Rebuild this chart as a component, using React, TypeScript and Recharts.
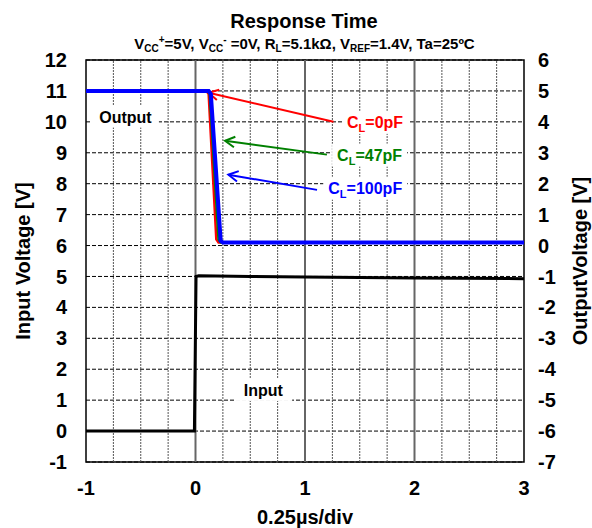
import React from 'react';
import {
  ComposedChart, Line, XAxis, YAxis, CartesianGrid, ReferenceLine, ReferenceDot, ReferenceArea,
} from 'recharts';

const FONT = '"Liberation Sans", Arial, sans-serif';

// time axis, 0.25us per division
const TIME_TICKS = [-1, 0, 1, 2, 3];
const MINOR_X = [-0.75, -0.5, -0.25, 0.25, 0.5, 0.75, 1.25, 1.5, 1.75, 2.25, 2.5, 2.75];
const MAJOR_X = [0, 1, 2];
const INPUT_TICKS = [-1, 0, 1, 2, 3, 4, 5, 6, 7, 8, 9, 10, 11, 12];
const OUTPUT_TICKS = [-7, -6, -5, -4, -3, -2, -1, 0, 1, 2, 3, 4, 5, 6];

// input step (left axis)
const INPUT_T = [-1, -0.01, 0.005, 0.03, 0.5, 1, 2, 3];
const INPUT_V = [0, 0, 5.0, 5.02, 5.0, 4.98, 4.95, 4.93];

// output traces (right axis)
const OUT0_T = [-1, 0.1, 0.12, 0.19, 0.21, 3];
const OUT0_V = [5, 5, 4.9, 0.2, 0.1, 0.1];
const OUT47_T = [-1, 0.11, 0.13, 0.21, 0.23, 3];
const OUT47_V = [5, 5, 4.9, 0.2, 0.1, 0.1];
const OUT100_T = [-1, 0.12, 0.14, 0.23, 0.25, 3];
const OUT100_V = [5, 5, 4.9, 0.15, 0.1, 0.1];

const zip = (t: number[], v: number[]) => t.map((x, i) => ({ t: x, v: v[i] }));

// annotation arrows: [tailT, tailV, headT, headV]
const ARROWS = [
  { color: '#ff0000', seg: [1.26, 4.0, 0.12, 4.94] },
  { color: '#008000', seg: [1.2, 2.94, 0.27, 3.39] },
  { color: '#0000ff', seg: [1.11, 1.8, 0.3, 2.29] },
];
const CL_LABELS = [
  { color: '#ff0000', t: 1.64, v: 4.0, text: '=0pF' },
  { color: '#008000', t: 1.59, v: 2.94, text: '=47pF' },
  { color: '#0000ff', t: 1.55, v: 1.87, text: '=100pF' },
];

const arrowShape = (color: string) => (p: any) => {
  const { x1, y1, x2, y2 } = p;
  const a = Math.atan2(y2 - y1, x2 - x1);
  const L = 11;
  const w = 0.5;
  const ax = x2 - L * Math.cos(a - w);
  const ay = y2 - L * Math.sin(a - w);
  const bx = x2 - L * Math.cos(a + w);
  const by = y2 - L * Math.sin(a + w);
  return (
    <g>
      <line x1={x1} y1={y1} x2={x2} y2={y2} stroke={color} strokeWidth={2} />
      <polyline points={`${ax},${ay} ${x2},${y2} ${bx},${by}`} fill="none" stroke={color} strokeWidth={2} />
    </g>
  );
};

const clShape = (color: string, text: string) => (p: any) => {
  const { cx, cy } = p;
  const w = text.length * 9 + 22;
  return (
    <g>
      <rect x={cx - w / 2 - 4} y={cy - 11} width={w + 8} height={23} fill="#fff" />
      <text x={cx} y={cy + 6} textAnchor="middle" fill={color} fontFamily={FONT} fontWeight="bold" fontSize={16}>
        <tspan>C</tspan>
        <tspan fontSize={11} dy={4}>L</tspan>
        <tspan dy={-4}>{text}</tspan>
      </text>
    </g>
  );
};

const boxLabel = (text: string) => (p: any) => {
  const { cx, cy } = p;
  const w = text.length * 9.5 + 10;
  return (
    <g>
      <rect x={cx - w / 2} y={cy - 11} width={w} height={22} fill="#fff" />
      <text x={cx} y={cy + 6} textAnchor="middle" fill="#000" fontFamily={FONT} fontWeight="bold" fontSize={16}>
        {text}
      </text>
    </g>
  );
};

const tickStyle = { fill: '#000', fontSize: 20, fontWeight: 'bold', fontFamily: FONT };
const labelStyle = { fill: '#000', fontSize: 20, fontWeight: 'bold', fontFamily: FONT };
const sub = { fontSize: 10, verticalAlign: -3 };
const sup = { fontSize: 10, verticalAlign: 6 };

export default function App() {
  return (
    <div style={{ position: 'absolute', left: 0, top: 0, width: 592, height: 528, background: '#fff', fontFamily: FONT }}>
      <div style={{ position: 'absolute', left: 0, width: 608, top: 9, textAlign: 'center', fontSize: 20, fontWeight: 'bold', lineHeight: '24px' }}>
        Response Time
      </div>
      <div style={{ position: 'absolute', left: 0, width: 609, top: 30, textAlign: 'center', fontSize: 15, fontWeight: 'bold', lineHeight: '20px', whiteSpace: 'nowrap' }}>
        V<span style={sub}>CC</span>
        <span style={sup}>+</span>=5V, V<span style={sub}>CC</span>
        <span style={sup}>-</span> =0V, R<span style={sub}>L</span>=5.1kΩ, V
        <span style={sub}>REF</span>=1.4V, Ta=25ºC
      </div>
      <ComposedChart width={592} height={528} margin={{ top: 60, right: 18, bottom: 16, left: 30 }}>
        <CartesianGrid yAxisId="left" vertical={false} stroke="#000" strokeDasharray="4 2" />
        <XAxis
          type="number"
          dataKey="t"
          domain={[-1, 3]}
          ticks={TIME_TICKS}
          allowDataOverflow
          axisLine={false}
          tickLine={false}
          tickSize={6}
          tickMargin={13}
          height={50}
          tick={tickStyle}
          label={{ value: '0.25µs/div', position: 'center', dy: 30, style: labelStyle }}
        />
        <YAxis
          yAxisId="left"
          type="number"
          domain={[-1, 12]}
          ticks={INPUT_TICKS}
          interval={0}
          allowDataOverflow
          axisLine={false}
          tickLine={false}
          tickSize={6}
          tickMargin={13}
          width={56}
          tick={tickStyle}
          label={{ value: 'Input Voltage [V]', angle: -90, position: 'center', dx: -35, style: labelStyle }}
        />
        <YAxis
          yAxisId="right"
          orientation="right"
          type="number"
          domain={[-7, 6]}
          ticks={OUTPUT_TICKS}
          interval={0}
          allowDataOverflow
          axisLine={false}
          tickLine={false}
          tickSize={6}
          tickMargin={8}
          width={50}
          tick={tickStyle}
          label={{ value: 'OutputVoltage [V]', angle: -90, position: 'center', dx: 31, style: labelStyle }}
        />
        {MINOR_X.map((x) => (
          <ReferenceLine key={'m' + x} yAxisId="left" x={x} stroke="#555" strokeWidth={1} strokeDasharray="2 1" />
        ))}
        {MAJOR_X.map((x) => (
          <ReferenceLine key={'M' + x} yAxisId="left" x={x} stroke="#666" strokeWidth={2} />
        ))}
        <ReferenceArea yAxisId="left" x1={-1} x2={3} y1={-1} y2={12} fill="none" stroke="#000" strokeWidth={1.5} />
        <ReferenceDot yAxisId="left" x={-0.64} y={10.17} r={0} shape={boxLabel('Output')} />
        <ReferenceDot yAxisId="left" x={0.62} y={1.33} r={0} shape={boxLabel('Input')} />
        {CL_LABELS.map((c) => (
          <ReferenceDot key={c.text} yAxisId="right" x={c.t} y={c.v} r={0} shape={clShape(c.color, c.text)} />
        ))}
        {ARROWS.map((a) => (
          <ReferenceLine
            key={a.color}
            yAxisId="right"
            segment={[{ x: a.seg[0], y: a.seg[1] }, { x: a.seg[2], y: a.seg[3] }]}
            stroke={a.color}
            shape={arrowShape(a.color)}
          />
        ))}
        <Line yAxisId="left" data={zip(INPUT_T, INPUT_V)} dataKey="v" stroke="#000" strokeWidth={3} dot={false} isAnimationActive={false} />
        <Line yAxisId="right" data={zip(OUT0_T, OUT0_V)} dataKey="v" stroke="#ff0000" strokeWidth={2.5} dot={false} isAnimationActive={false} />
        <Line yAxisId="right" data={zip(OUT47_T, OUT47_V)} dataKey="v" stroke="#008000" strokeWidth={2.5} dot={false} isAnimationActive={false} />
        <Line yAxisId="right" data={zip(OUT100_T, OUT100_V)} dataKey="v" stroke="#0000ff" strokeWidth={4} dot={false} isAnimationActive={false} />
      </ComposedChart>
    </div>
  );
}
